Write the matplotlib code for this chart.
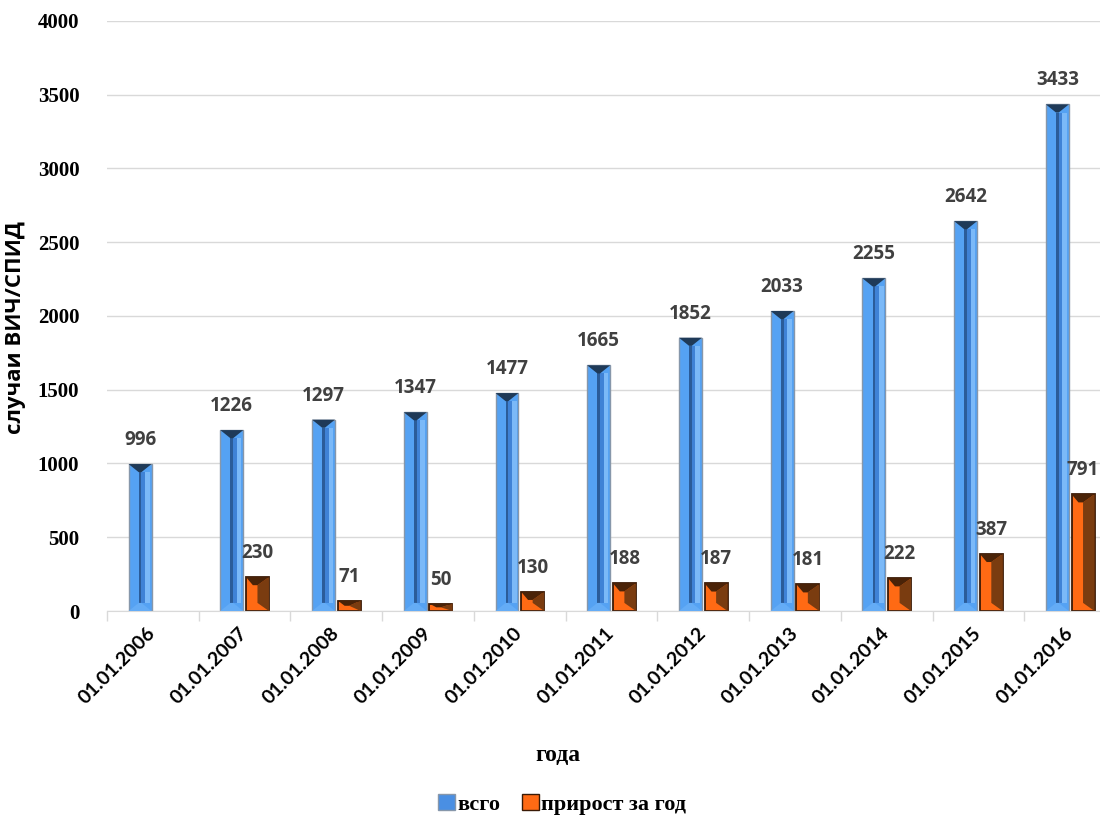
import numpy as np
import matplotlib.pyplot as plt
from matplotlib.patches import Polygon, Patch

# Данные: случаи ВИЧ/СПИД на начало года
dates = ['01.01.2006', '01.01.2007', '01.01.2008', '01.01.2009', '01.01.2010',
         '01.01.2011', '01.01.2012', '01.01.2013', '01.01.2014', '01.01.2015',
         '01.01.2016']
total = [996, 1226, 1297, 1347, 1477, 1665, 1852, 2033, 2255, 2642, 3433]
growth = [None, 230, 71, 50, 130, 188, 187, 181, 222, 387, 791]

sans = 'Open Sans'
serif = 'Liberation Serif'

fig = plt.figure(figsize=(11, 8.16), dpi=100)
ax = fig.add_axes([0.0973, 0.2512, 0.9173, 0.7234])

x = np.arange(len(dates))
w = 0.25
off = 0.14

# объёмная "фаска" поверх обычного столбика
def bevel(rect, kind):
    x0, y0 = rect.get_x(), rect.get_y()
    bw, h = rect.get_width(), rect.get_height()
    x1, y1 = x0 + bw, y0 + h
    iy = min(55, h / 2)

    def band(a, b, col):
        return ([(x0 + a * bw, y0 + iy), (x0 + b * bw, y0 + iy),
                 (x0 + b * bw, y1 - iy), (x0 + a * bw, y1 - iy)], col)

    if kind == 'blue':
        strips = [
            band(0.44, 0.56, '#2b5c99'),
            band(0.56, 0.72, '#3f82d6'),
            band(0.72, 0.92, '#7bb9f8'),
            ([(x0, y0), (x1, y0), (x0 + 0.56 * bw, y0 + iy), (x0 + 0.44 * bw, y0 + iy)], '#64acf6'),
            ([(x0, y1), (x1, y1), (x0 + 0.56 * bw, y1 - iy), (x0 + 0.44 * bw, y1 - iy)], '#1f3a58'),
        ]
    else:
        strips = [
            ([(x0 + 0.5 * bw, y0 + iy), (x1, y0), (x1, y1), (x0 + 0.5 * bw, y1 - iy)], '#7a3c10'),
            ([(x0, y1), (x1, y1), (x0 + 0.5 * bw, y1 - iy), (x0 + 0.3 * bw, y1 - iy)], '#4a2308'),
        ]
    for pts, col in strips:
        ax.add_patch(Polygon(pts, closed=True, facecolor=col, edgecolor='none', zorder=3))

bars_total = ax.bar(x - off, total, w, color='#55a2f3', edgecolor='#8797aa',
                    linewidth=1.0, zorder=2)
gx = [i for i, v in enumerate(growth) if v is not None]
gv = [v for v in growth if v is not None]
bars_growth = ax.bar(np.array(gx) + off, gv, w, color='#ff6a14', edgecolor='#3a1a06',
                     linewidth=1.3, zorder=2)

for r in bars_total:
    bevel(r, 'blue')
for r in bars_growth:
    bevel(r, 'orange')

# подписи значений
for xi, v in zip(x, total):
    ax.text(xi - off, v + 95, str(v), ha='center', va='bottom', fontsize=13.5,
            fontweight='bold', color='#404040', family=sans)
for xi, v in zip(gx, gv):
    ax.text(xi + off, v + 95, str(v), ha='center', va='bottom', fontsize=13.5,
            fontweight='bold', color='#404040', family=sans)

ax.set_xlim(-0.5, len(dates) - 0.5)
ax.set_ylim(0, 4000)
ax.set_yticks(np.arange(0, 4001, 500))
ax.set_yticklabels([str(t) for t in range(0, 4001, 500)], fontsize=15,
                   fontweight='bold', family=serif)
ax.grid(axis='y', color='#d9d9d9', linewidth=1, zorder=0)
ax.set_axisbelow(True)

ax.set_xticks(x)
ax.set_xticklabels(dates, rotation=45, ha='right', va='center', rotation_mode='anchor',
                   fontsize=14, fontweight='bold', family='Lato')
ax.set_xticks(np.arange(-0.5, len(dates), 1), minor=True)
ax.tick_params(axis='x', which='major', length=0, pad=14)
ax.tick_params(axis='x', which='minor', length=7, color='#d9d9d9', width=1)
ax.tick_params(axis='y', length=0, pad=20)

for s in ['top', 'right', 'left']:
    ax.spines[s].set_visible(False)
ax.spines['bottom'].set_color('#d9d9d9')

ax.set_ylabel('случаи ВИЧ/СПИД', fontsize=16, fontweight='bold', family=sans)
ax.yaxis.set_label_coords(-0.080, 0.48)
fig.text(0.507, 0.074, 'года', ha='center', va='center', fontsize=17,
         fontweight='bold', family=serif)

handles = [Patch(facecolor='#4a8fe3', edgecolor='#8797aa'),
           Patch(facecolor='#ff6a14', edgecolor='#3a1a06')]
fig.legend(handles, ['всго', 'прирост за год'], loc='center', bbox_to_anchor=(0.511, 0.014),
           ncol=2, frameon=False, handlelength=0.75, handleheight=0.75, handletextpad=0.1,
           columnspacing=1.0, prop={'family': serif, 'weight': 'bold', 'size': 16})

fig.savefig('out.png', dpi=100)
